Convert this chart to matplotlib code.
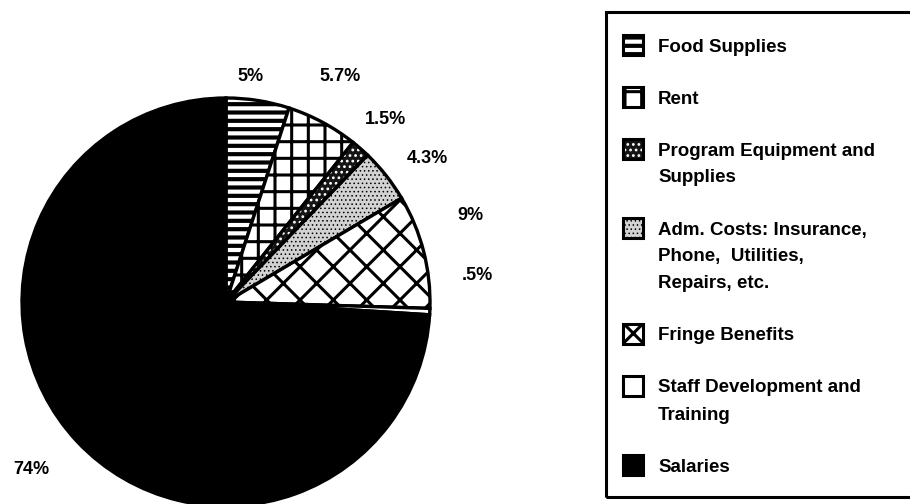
import numpy as np
import matplotlib
matplotlib.use("Agg")
import matplotlib.pyplot as plt
from matplotlib.patches import Rectangle, Wedge

# budget shares, clockwise from 12 o'clock
categories = ["Food Supplies", "Rent", "Program Equipment and\nSupplies",
              "Adm. Costs: Insurance,\nPhone,  Utilities,\nRepairs, etc.",
              "Fringe Benefits", "Staff Development and\nTraining", "Salaries"]
shares = [5, 5.7, 1.5, 4.3, 9, 0.5, 74]
share_labels = ["5%", "5.7%", "1.5%", "4.3%", "9%", ".5%", "74%"]

# fill styles per slice
faces = ["white", "white", "#151515", "#d2d2d2", "white", "white", "black"]
hatches = ["--", "+", "...", "....", "x", "", ""]
hatch_widths = [3.0, 2.2, 1.2, 0.6, 2.2, 1.0, 1.0]
# label placement: radius (x pie radius) and clockwise angle nudge (deg)
label_r = [1.11, 1.24, 1.19, 1.21, 1.27, 1.24, 1.26]
label_nudge = [-2.7, -1.4, 0, 2.9, -5.2, -8.8, 2.5]

W, H = 910, 504
plt.rcParams["font.family"] = ["Liberation Sans", "DejaVu Sans"]
plt.rcParams["font.weight"] = "bold"
plt.rcParams["hatch.linewidth"] = 2.2

fig = plt.figure(figsize=(W / 100, H / 100), dpi=100)
ax = fig.add_axes([0, 0, 1, 1])

cx, cy, R = 226, H - 302, 204
wedges, texts = ax.pie(shares, labels=share_labels, startangle=90, counterclock=False,
                       center=(cx, cy), radius=R, colors=faces,
                       wedgeprops=dict(edgecolor="black", linewidth=2.4),
                       textprops=dict(fontsize=13, fontweight="bold"))


def set_hw(patch, lw):
    if hasattr(patch, "set_hatch_linewidth"):
        patch.set_hatch_linewidth(lw)


for w, t, h, hw, r, nd in zip(wedges, texts, hatches, hatch_widths, label_r, label_nudge):
    w.set_hatch(h)
    set_hw(w, hw)
    mid = np.deg2rad((w.theta1 + w.theta2) / 2 - nd)
    t.set_position((cx + r * R * np.cos(mid), cy + r * R * np.sin(mid)))
    t.set_ha("center")
    t.set_va("center")

# program equipment: white dots on dark ground, then black outline on top
wp = wedges[2]
wp.set_edgecolor("white")
wp.set_linewidth(0)
ax.add_patch(Wedge(wp.center, wp.r, wp.theta1, wp.theta2, fill=False,
                   edgecolor="black", linewidth=2.4))

# legend box (runs off the right edge like the scan)
ax.add_patch(Rectangle((606, H - 497), 340, 485, fill=False, edgecolor="black",
                       linewidth=2.2))
y = 45
for lab, fc, h, hw in zip(categories, faces, hatches, hatch_widths):
    lines = lab.split("\n")
    for j, line in enumerate(lines):
        ax.text(658, H - (y + j * 27) - 6.5, line, fontsize=13.5, fontweight="bold",
                va="baseline", ha="left")
    if fc == "#151515":
        sq = Rectangle((623, H - y - 10), 20, 20, facecolor=fc, edgecolor="white",
                       hatch=h, linewidth=0)
        set_hw(sq, hw)
        ax.add_patch(sq)
        ax.add_patch(Rectangle((623, H - y - 10), 20, 20, fill=False,
                               edgecolor="black", linewidth=2.2))
    else:
        sq = Rectangle((623, H - y - 10), 20, 20, facecolor=fc, edgecolor="black",
                       hatch=h, linewidth=2.2)
        set_hw(sq, hw)
        ax.add_patch(sq)
    y += (len(lines) - 1) * 27 + 52

ax.set_xlim(0, W)
ax.set_ylim(0, H)
ax.set_aspect("equal")
ax.axis("off")
fig.savefig("out.png", dpi=100)
